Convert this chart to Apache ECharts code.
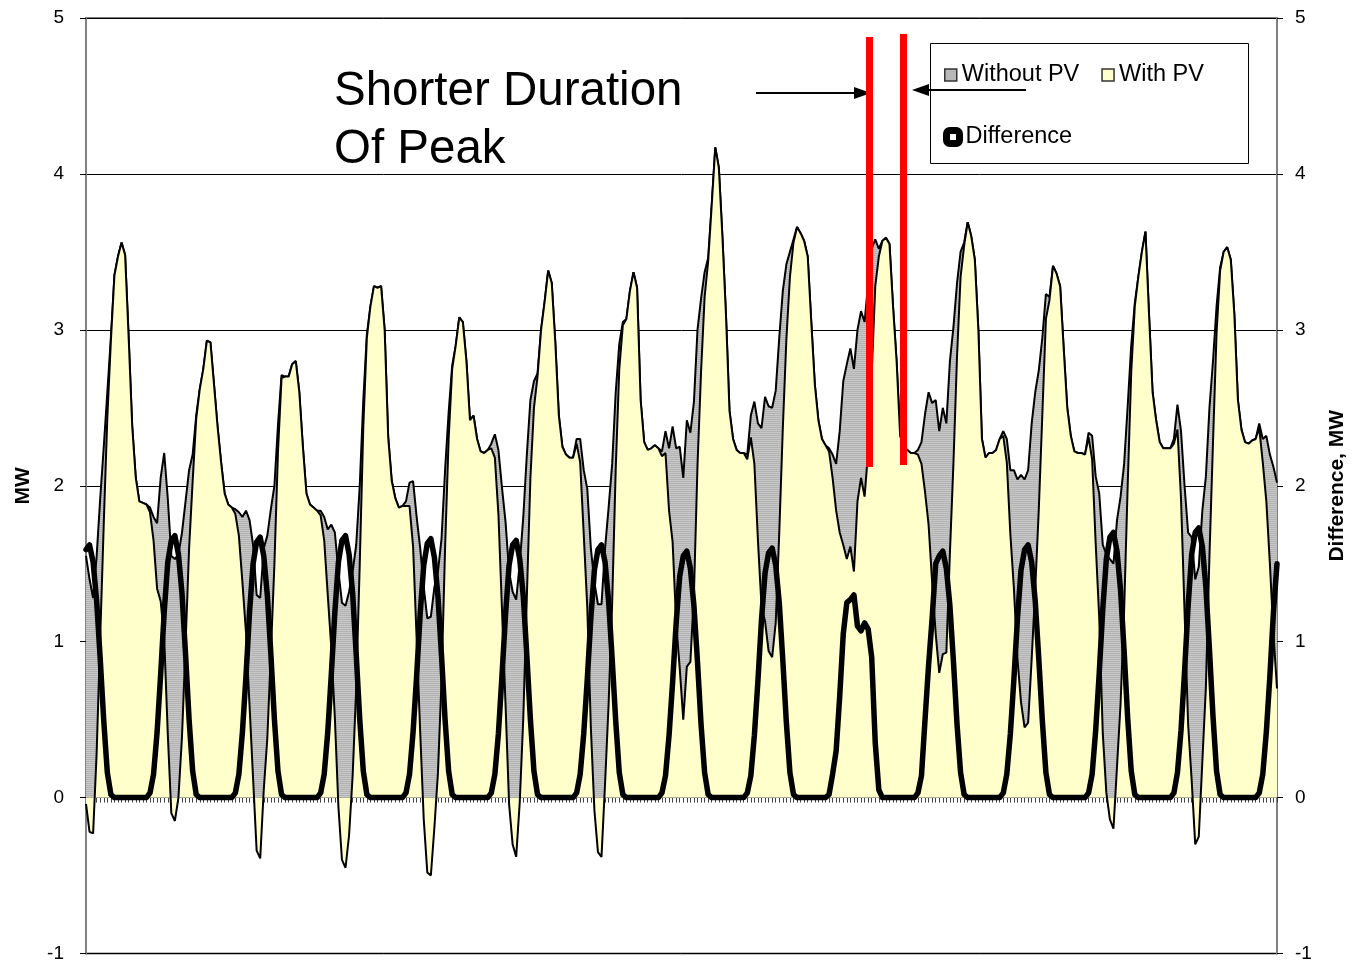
<!DOCTYPE html>
<html>
<head>
<meta charset="utf-8">
<script src="https://cdn.jsdelivr.net/npm/echarts@6/dist/echarts.min.js"></script>
<style>
html,body{margin:0;padding:0;background:#fff;overflow:hidden;}
#chart{width:1356px;height:963px;}
</style>
</head>
<body>
<div id="chart"></div>
<script>
// Hourly values, 14 days x 24 h, first point = noon of day 1
const withoutPV = [
1.55,1.40,1.28,1.55,1.92,2.25,2.60,2.95,3.35,3.47,3.56,3.48,2.95,2.38,2.05,1.90,1.89,1.88,1.86,1.80,1.76,2.05,2.21,1.92,
1.55,1.53,1.56,1.70,1.90,2.10,2.20,2.45,2.62,2.75,2.93,2.92,2.65,2.38,2.15,1.95,1.88,1.86,1.85,1.83,1.80,1.84,1.78,1.62,
1.30,1.28,1.60,1.68,1.85,2.00,2.39,2.71,2.70,2.70,2.78,2.80,2.60,2.25,1.95,1.88,1.86,1.84,1.84,1.80,1.72,1.75,1.70,1.45,
1.25,1.23,1.32,1.45,1.62,2.00,2.55,2.97,3.15,3.28,3.27,3.28,3.00,2.31,2.03,1.92,1.86,1.87,1.90,2.02,2.03,1.80,1.60,1.35,
1.15,1.16,1.35,1.45,1.66,2.10,2.47,2.77,2.90,3.08,3.05,2.80,2.42,2.45,2.30,2.22,2.21,2.23,2.27,2.33,2.23,1.99,1.77,1.45,
1.32,1.27,1.50,1.80,2.20,2.55,2.67,2.72,3.00,3.18,3.38,3.30,2.92,2.45,2.25,2.20,2.18,2.18,2.30,2.30,2.10,1.98,1.60,1.38,
1.24,1.24,1.60,1.86,2.14,2.60,2.91,3.05,3.07,3.25,3.37,3.27,2.55,2.28,2.23,2.24,2.26,2.24,2.22,2.35,2.24,2.38,2.24,2.25,
2.05,2.42,2.34,2.54,3.00,3.20,3.37,3.46,3.80,4.17,4.04,3.60,3.10,2.48,2.30,2.23,2.21,2.21,2.20,2.45,2.54,2.40,2.37,2.57,
2.51,2.50,2.61,2.95,3.25,3.42,3.50,3.58,3.66,3.62,3.57,3.47,3.05,2.65,2.42,2.30,2.26,2.24,2.20,2.14,2.35,2.67,2.78,2.88,
2.75,3.00,3.12,3.05,3.30,3.52,3.58,3.52,3.57,3.59,3.55,3.15,2.80,2.32,2.25,2.23,2.21,2.21,2.23,2.28,2.46,2.60,2.53,2.55,
2.35,2.50,2.40,2.80,3.02,3.30,3.50,3.56,3.69,3.60,3.45,3.00,2.30,2.18,2.21,2.21,2.23,2.30,2.35,2.30,2.10,2.10,2.04,2.07,
2.04,2.10,2.40,2.60,2.74,2.95,3.23,3.21,3.41,3.36,3.28,2.88,2.50,2.32,2.22,2.21,2.21,2.20,2.34,2.32,2.06,1.95,1.62,1.56,
1.53,1.50,1.78,1.93,2.14,2.51,2.90,3.17,3.34,3.50,3.63,3.10,2.60,2.42,2.28,2.24,2.24,2.24,2.30,2.52,2.35,2.00,1.70,1.67,
1.40,1.48,1.84,2.06,2.50,2.80,3.15,3.40,3.50,3.53,3.45,3.10,2.55,2.36,2.28,2.27,2.29,2.30,2.40,2.30,2.32,2.20,2.12,2.02
];
const withPV = [
-0.04,-0.22,-0.23,0.29,1.03,1.76,2.44,2.93,3.35,3.47,3.56,3.48,2.95,2.38,2.05,1.90,1.89,1.88,1.83,1.65,1.34,1.26,1.02,0.41,
-0.10,-0.15,0.00,0.39,0.98,1.60,2.03,2.43,2.62,2.75,2.93,2.92,2.65,2.38,2.15,1.95,1.88,1.86,1.82,1.68,1.38,1.06,0.59,0.12,
-0.34,-0.39,0.05,0.38,0.93,1.50,2.22,2.69,2.70,2.70,2.78,2.80,2.60,2.25,1.95,1.88,1.86,1.84,1.81,1.65,1.30,0.96,0.51,-0.06,
-0.40,-0.45,-0.24,0.14,0.70,1.50,2.38,2.95,3.15,3.28,3.27,3.28,3.00,2.31,2.03,1.92,1.86,1.87,1.87,1.87,1.61,1.02,0.42,-0.14,
-0.48,-0.50,-0.19,0.16,0.75,1.60,2.30,2.75,2.90,3.08,3.05,2.80,2.42,2.45,2.30,2.22,2.21,2.23,2.24,2.18,1.82,1.21,0.60,-0.04,
-0.30,-0.38,-0.03,0.51,1.29,2.05,2.50,2.70,3.00,3.18,3.38,3.30,2.92,2.45,2.25,2.20,2.18,2.18,2.27,2.15,1.69,1.22,0.45,-0.08,
-0.35,-0.38,0.09,0.60,1.25,2.11,2.75,3.03,3.07,3.25,3.37,3.27,2.55,2.28,2.23,2.24,2.26,2.24,2.19,2.21,1.84,1.64,1.12,0.83,
0.50,0.84,0.87,1.31,2.13,2.73,3.21,3.44,3.80,4.17,4.04,3.60,3.10,2.48,2.30,2.23,2.21,2.21,2.17,2.31,2.14,1.65,1.23,1.13,
0.94,0.90,1.12,1.70,2.37,2.94,3.34,3.56,3.66,3.62,3.57,3.47,3.05,2.65,2.42,2.30,2.26,2.22,2.05,1.84,1.70,1.62,1.53,1.61,
1.45,1.90,2.05,1.93,2.22,2.72,3.28,3.47,3.57,3.59,3.55,3.15,2.80,2.32,2.25,2.23,2.21,2.21,2.20,2.14,1.96,1.75,1.38,1.05,
0.80,0.92,0.93,1.57,2.15,2.83,3.34,3.54,3.69,3.60,3.45,3.00,2.30,2.18,2.21,2.21,2.23,2.30,2.32,2.15,1.69,1.34,0.89,0.61,
0.45,0.48,0.89,1.34,1.85,2.46,3.07,3.19,3.41,3.36,3.28,2.88,2.50,2.32,2.22,2.21,2.21,2.20,2.31,2.17,1.63,1.15,0.41,0.03,
-0.14,-0.20,0.20,0.60,1.20,2.00,2.73,3.15,3.34,3.50,3.63,3.10,2.60,2.42,2.28,2.24,2.24,2.24,2.27,2.36,1.92,1.19,0.47,0.11,
-0.30,-0.25,0.23,0.71,1.55,2.28,2.98,3.38,3.50,3.53,3.45,3.10,2.55,2.36,2.28,2.27,2.29,2.30,2.37,2.15,1.90,1.50,1.05,0.70
];
const difference = [
1.59,1.62,1.51,1.26,0.89,0.49,0.16,0.02,0,0,0,0,0,0,0,0,0,0,0.03,0.15,0.42,0.79,1.19,1.51,
1.65,1.68,1.56,1.31,0.92,0.50,0.17,0.02,0,0,0,0,0,0,0,0,0,0,0.03,0.15,0.42,0.78,1.19,1.50,
1.64,1.67,1.55,1.30,0.92,0.50,0.17,0.02,0,0,0,0,0,0,0,0,0,0,0.03,0.15,0.42,0.79,1.19,1.51,
1.65,1.68,1.56,1.31,0.92,0.50,0.17,0.02,0,0,0,0,0,0,0,0,0,0,0.03,0.15,0.42,0.78,1.18,1.49,
1.63,1.66,1.54,1.29,0.91,0.50,0.17,0.02,0,0,0,0,0,0,0,0,0,0,0.03,0.15,0.41,0.78,1.17,1.49,
1.62,1.65,1.53,1.29,0.91,0.50,0.17,0.02,0,0,0,0,0,0,0,0,0,0,0.03,0.15,0.41,0.76,1.15,1.46,
1.59,1.62,1.51,1.26,0.89,0.49,0.16,0.02,0,0,0,0,0,0,0,0,0,0,0.03,0.14,0.40,0.74,1.12,1.42,
1.55,1.58,1.47,1.23,0.87,0.47,0.16,0.02,0,0,0,0,0,0,0,0,0,0,0.03,0.14,0.40,0.75,1.14,1.44,
1.57,1.60,1.49,1.25,0.88,0.48,0.16,0.02,0,0,0,0,0,0,0,0,0,0.02,0.15,0.30,0.65,1.05,1.25,1.27,
1.30,1.10,1.07,1.12,1.08,0.90,0.35,0.05,0,0,0,0,0,0,0,0,0,0,0.03,0.14,0.50,0.85,1.15,1.50,
1.55,1.58,1.47,1.23,0.87,0.47,0.16,0.02,0,0,0,0,0,0,0,0,0,0,0.03,0.15,0.41,0.76,1.15,1.46,
1.59,1.62,1.51,1.26,0.89,0.49,0.16,0.02,0,0,0,0,0,0,0,0,0,0,0.03,0.15,0.43,0.80,1.21,1.53,
1.67,1.70,1.58,1.33,0.94,0.51,0.17,0.02,0,0,0,0,0,0,0,0,0,0,0.03,0.16,0.43,0.81,1.23,1.56,
1.70,1.73,1.61,1.35,0.95,0.52,0.17,0.02,0,0,0,0,0,0,0,0,0,0,0.03,0.15,0.42,0.78,1.19,1.50
];
const yTickMin = -1, yTickMax = 5, yTickStep = 1;
const hours = withoutPV.map((_, i) => String(i + 1));

// striped gray fill like the original pattern
const pat = document.createElement('canvas');
pat.width = 4; pat.height = 2;
const pc = pat.getContext('2d');
pc.fillStyle = '#c8c8c8'; pc.fillRect(0, 0, 4, 1);
pc.fillStyle = '#b2b2b2'; pc.fillRect(0, 1, 4, 1);

const FONT = 'Liberation Sans, Arial, sans-serif';
const chart = echarts.init(document.getElementById('chart'), null, {renderer: 'canvas'});

const yAxisBase = {
  type: 'value', min: yTickMin, max: yTickMax, interval: yTickStep,
  axisLine: {show: true, lineStyle: {color: '#808080', width: 2}},
  axisTick: {show: true, inside: false, length: 6, lineStyle: {color: '#000', width: 1}},
  axisLabel: {color: '#000', fontSize: 19, fontFamily: FONT},
  nameLocation: 'middle', nameRotate: 90,
  nameTextStyle: {color: '#000', fontSize: 21, fontWeight: 'bold', fontFamily: FONT}
};

chart.setOption({
  animation: false,
  backgroundColor: '#fff',
  grid: {left: 86, right: 72, top: 18, bottom: 8, show: true, borderColor: '#808080', borderWidth: 2, backgroundColor: 'transparent'},
  xAxis: {
    type: 'category', data: hours, boundaryGap: false,
    axisLine: {onZero: true, lineStyle: {color: '#000', width: 1}},
    axisTick: {show: true, interval: 0, length: 5, lineStyle: {color: '#444', width: 1}},
    axisLabel: {show: false}, splitLine: {show: false}
  },
  yAxis: [
    Object.assign({}, yAxisBase, {
      position: 'left', name: 'MW', nameGap: 52,
      axisLabel: Object.assign({}, yAxisBase.axisLabel, {margin: 22}),
      splitLine: {show: true, lineStyle: {color: '#000', width: 1}}
    }),
    Object.assign({}, yAxisBase, {
      position: 'right', name: 'Difference, MW', nameGap: 50,
      axisLabel: Object.assign({}, yAxisBase.axisLabel, {margin: 18}),
      splitLine: {show: false}
    })
  ],
  legend: [
    {
      left: 944, top: 63, padding: 0, itemGap: 22, itemWidth: 12, itemHeight: 12,
      textStyle: {fontSize: 23.5, fontFamily: FONT, color: '#000'},
      selectedMode: false, z: 10,
      data: [
        {name: 'Without PV', icon: 'rect', itemStyle: {color: '#b8b8b8', borderColor: '#333', borderWidth: 1.5}},
        {name: 'With PV', icon: 'rect', itemStyle: {color: '#ffffcc', borderColor: '#333', borderWidth: 1.5}}
      ]
    },
    {
      left: 943, top: 125, padding: 0, itemWidth: 13, itemHeight: 13,
      textStyle: {fontSize: 23.5, fontFamily: FONT, color: '#000', padding: [0, 0, 0, 1]},
      selectedMode: false, z: 10,
      data: [
        {name: 'Difference', icon: 'roundRect', itemStyle: {color: '#fff', borderColor: '#000', borderWidth: 7}}
      ]
    }
  ],
  graphic: [
    {type: 'rect', shape: {x: 930.5, y: 43.5, width: 318, height: 120}, style: {fill: '#fff', stroke: '#000', lineWidth: 1}, z: 5},
    {type: 'text', left: 334, top: 63, z: 20,
      style: {text: 'Shorter Duration\nOf Peak', fill: '#000', font: '47.5px ' + FONT, lineHeight: 58}},
    {type: 'line', shape: {x1: 756, y1: 93, x2: 858, y2: 93}, style: {stroke: '#000', lineWidth: 2}, z: 20},
    {type: 'polygon', shape: {points: [[854, 87], [871, 93], [854, 99]]}, style: {fill: '#000'}, z: 20},
    {type: 'line', shape: {x1: 1026, y1: 90, x2: 922, y2: 90}, style: {stroke: '#000', lineWidth: 2}, z: 20},
    {type: 'polygon', shape: {points: [[929, 84], [912, 90], [929, 96]]}, style: {fill: '#000'}, z: 20},
    {type: 'rect', shape: {x: 866, y: 37, width: 7, height: 430}, style: {fill: '#ff0000'}, z: 20},
    {type: 'rect', shape: {x: 900, y: 34, width: 7, height: 431}, style: {fill: '#ff0000'}, z: 20}
  ],
  series: [
    {
      name: 'Without PV', type: 'line', data: withoutPV, symbol: 'none', z: 2,
      itemStyle: {color: '#b8b8b8'},
      lineStyle: {color: '#000', width: 2},
      areaStyle: {color: {image: pat, repeat: 'repeat'}, opacity: 1}
    },
    {
      name: 'With PV', type: 'line', data: withPV, symbol: 'none', z: 3,
      itemStyle: {color: '#ffffcc'},
      lineStyle: {color: '#000', width: 2},
      areaStyle: {color: '#ffffcc', opacity: 1}
    },
    {
      name: 'Difference', type: 'line', yAxisIndex: 1, data: difference, symbol: 'none', z: 4,
      itemStyle: {color: '#000'},
      lineStyle: {color: '#000', width: 5.5, join: 'round', cap: 'round'}
    }
  ]
});
</script>
</body>
</html>
